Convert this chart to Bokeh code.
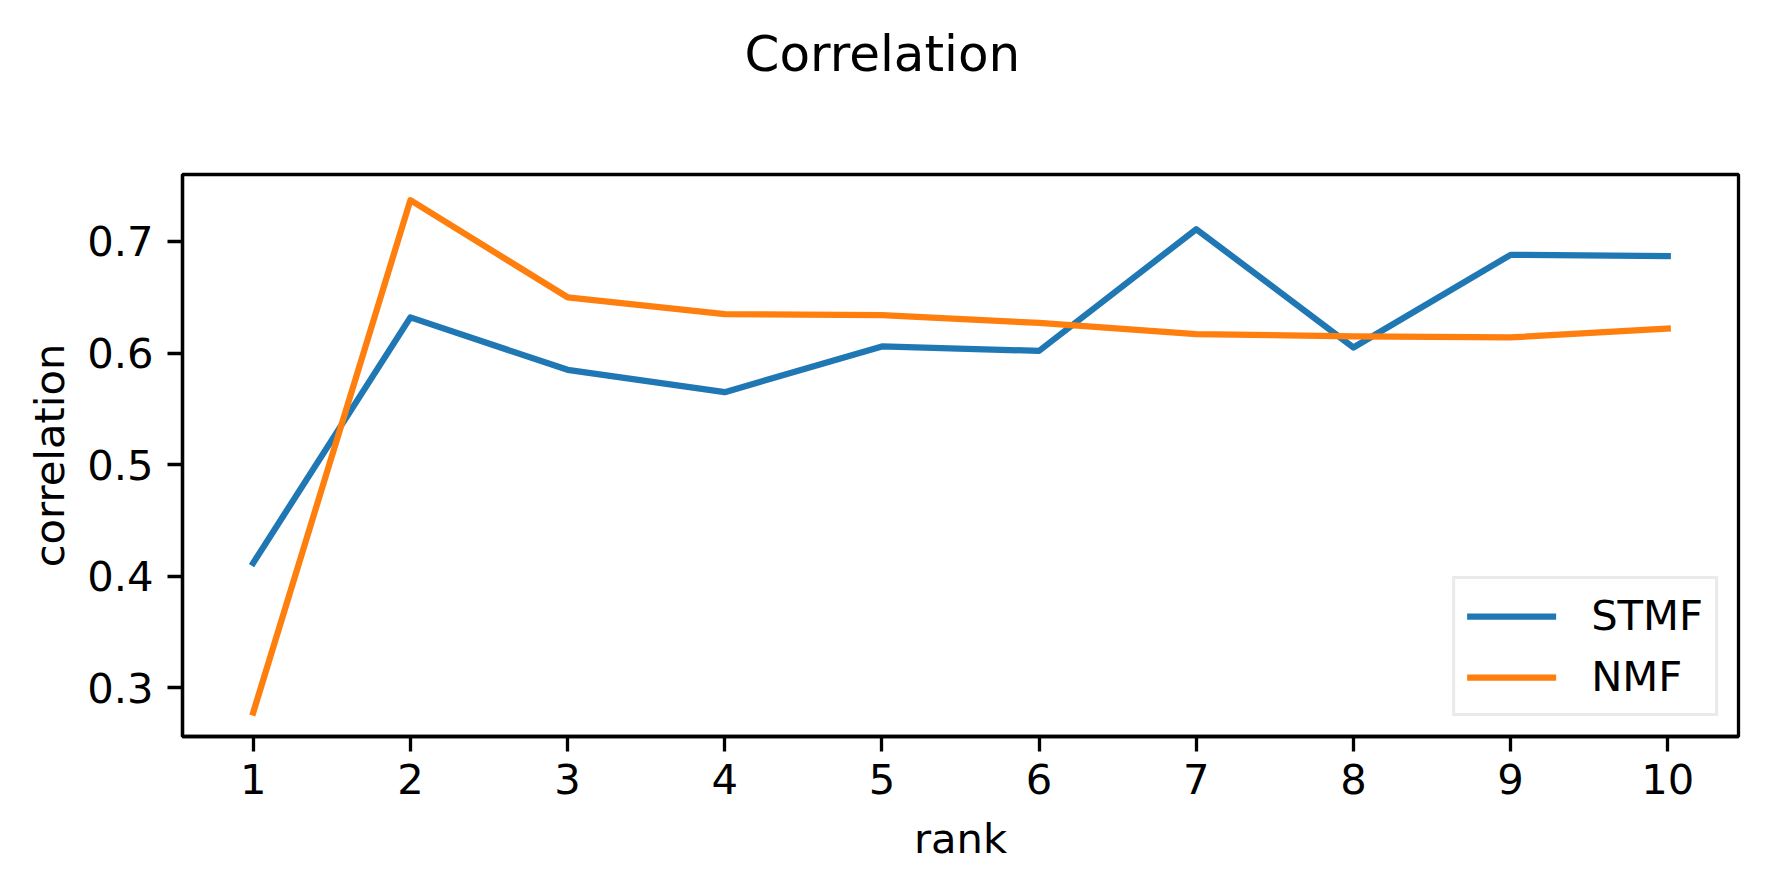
from bokeh.plotting import figure
from bokeh.models import (Range1d, FixedTicker, PrintfTickFormatter, Legend, LegendItem, Title)
from bokeh.embed import file_html
from bokeh.resources import INLINE

# ---- data ----
ranks = [1, 2, 3, 4, 5, 6, 7, 8, 9, 10]
stmf = [0.412, 0.632, 0.585, 0.565, 0.606, 0.602, 0.711, 0.605, 0.688, 0.687]
nmf = [0.278, 0.737, 0.650, 0.635, 0.634, 0.627, 0.617, 0.615, 0.614, 0.622]
y_ticks = [0.3, 0.4, 0.5, 0.6, 0.7]
title_text = "Correlation"
x_label = "rank"
y_label = "correlation"
series_names = ["STMF", "NMF"]
series_colors = ["#1f77b4", "#ff7f0e"]

FONT = "DejaVu Sans"
FS = "41.7px"
LW = 3.3

p = figure(width=1751, height=885, output_backend="svg", toolbar_location=None,
           x_range=Range1d(0.55, 10.45), y_range=Range1d(0.2565, 0.7600),
           min_border_left=182, min_border_right=13, min_border_top=174, min_border_bottom=149)
p.background_fill_color = "white"
p.border_fill_color = "white"
p.outline_line_color = "black"
p.outline_line_width = LW
p.xgrid.visible = False
p.ygrid.visible = False

r1 = p.line(ranks, stmf, line_color=series_colors[0], line_width=6.25, line_join="round", line_cap="square")
r2 = p.line(ranks, nmf, line_color=series_colors[1], line_width=6.25, line_join="round", line_cap="square")

for ax in (p.xaxis[0], p.yaxis[0]):
    ax.axis_line_width = LW
    ax.axis_line_color = "black"
    ax.major_tick_line_width = LW
    ax.major_tick_line_color = "black"
    ax.major_tick_out = 15
    ax.major_tick_in = 0
    ax.minor_tick_line_color = None
    ax.major_label_text_font = FONT
    ax.major_label_text_font_size = FS
    ax.major_label_text_color = "black"
    ax.axis_label_text_font = FONT
    ax.axis_label_text_font_size = FS
    ax.axis_label_text_font_style = "normal"
    ax.axis_label_text_color = "black"

p.xaxis.ticker = FixedTicker(ticks=ranks)
p.yaxis.ticker = FixedTicker(ticks=y_ticks)
p.yaxis.formatter = PrintfTickFormatter(format="%.1f")
p.xaxis.axis_label = x_label
p.yaxis.axis_label = y_label
p.xaxis.major_label_standoff = 12
p.xaxis.axis_label_standoff = 17
p.yaxis.major_label_standoff = 14
p.yaxis.axis_label_standoff = 10

# blank spacer between the frame and the figure title (a space draws nothing)
spacer = Title(text=" ", standoff=79, text_font=FONT, text_font_size="10px",
               text_color="white")
p.add_layout(spacer, "above")
# the figure title itself (outermost, centred over the whole figure)
p.title = Title(text=title_text, align="left", offset=562, standoff=0, vertical_align="bottom",
                text_font=FONT, text_font_size="50px", text_font_style="normal",
                text_color="black")

legend = Legend(items=[LegendItem(label=series_names[0], renderers=[r1]),
                       LegendItem(label=series_names[1], renderers=[r2])],
                location="bottom_right", margin=20, padding=12, spacing=12,
                glyph_width=89, glyph_height=42, label_height=42, label_standoff=35,
                label_text_font=FONT, label_text_font_size=FS, label_text_color="black",
                border_line_color="#d5d5d5", border_line_width=3,
                background_fill_color="white", background_fill_alpha=0.8)
p.add_layout(legend, "center")

open("out.html", "w").write(file_html(p, INLINE))
